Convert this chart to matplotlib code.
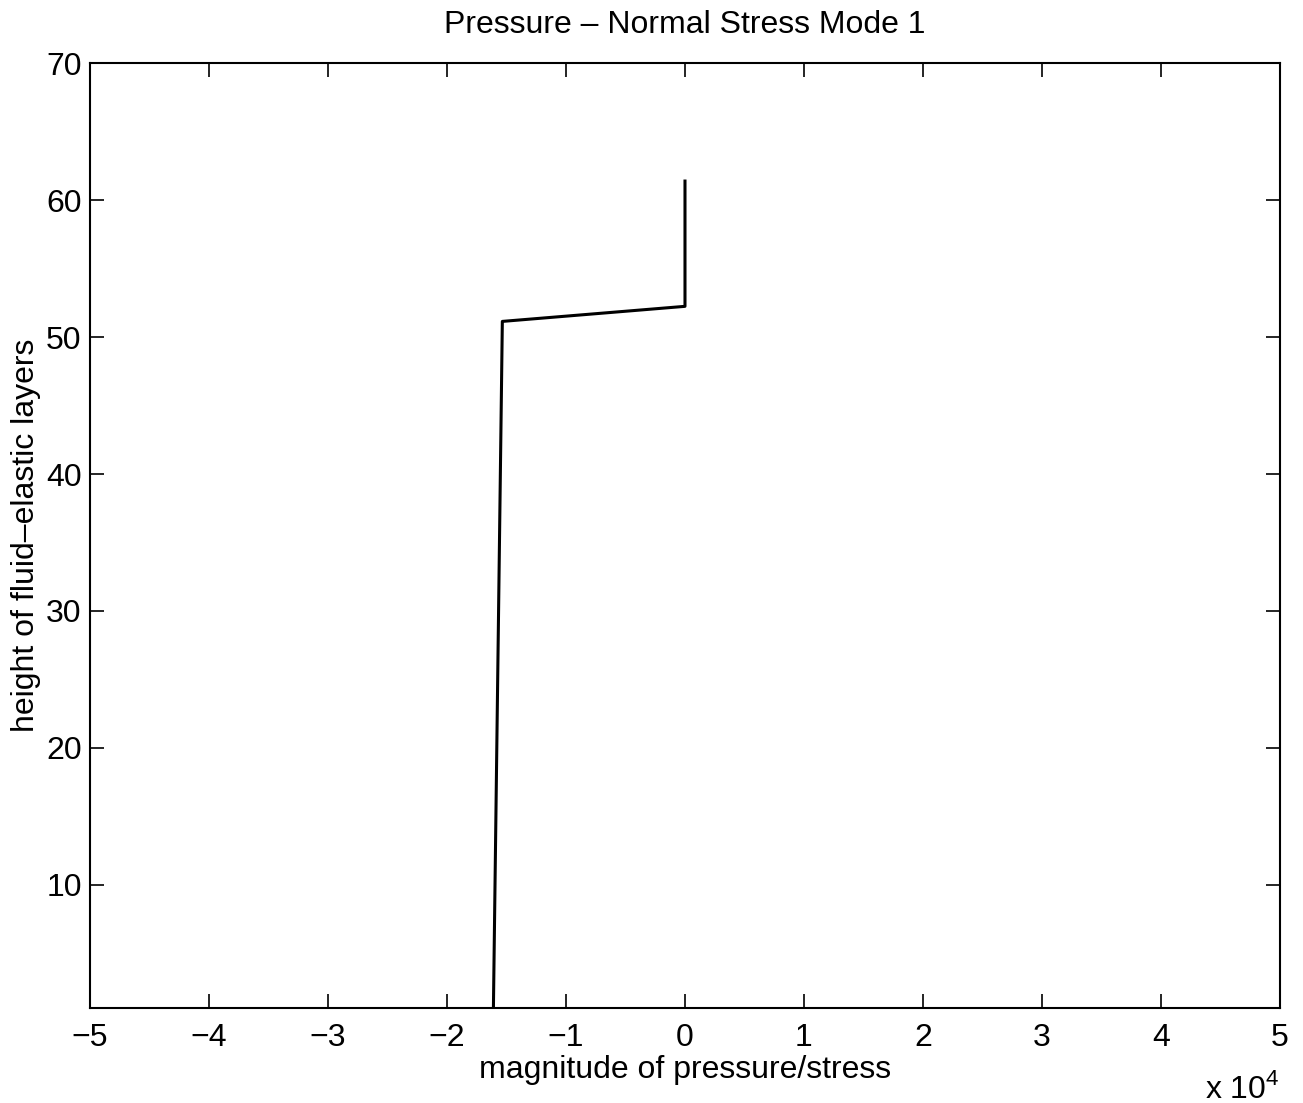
import matplotlib.pyplot as plt
from matplotlib.ticker import FuncFormatter

plt.rcParams['font.family'] = ['Liberation Sans', 'DejaVu Sans']
plt.rcParams['mathtext.fontset'] = 'custom'
plt.rcParams['mathtext.rm'] = 'Liberation Sans'

# profile of pressure / normal stress through the layers
stress = [-16100, -15350, 0, 0]
height = [1, 51.15, 52.25, 61.4]

xticks = [-50000, -40000, -30000, -20000, -10000, 0, 10000, 20000, 30000, 40000, 50000]
yticks = [10, 20, 30, 40, 50, 60, 70]

fig = plt.figure(figsize=(13.03, 11.03), dpi=100)
ax = fig.add_axes([0.0691, 0.0861, 0.9132, 0.8565])

ax.plot(stress, height, color='black', linewidth=2.2)

ax.set_xlim(-50000, 50000)
ax.set_ylim(1, 70)
ax.set_xticks(xticks)
ax.set_yticks(yticks)
ax.xaxis.set_major_formatter(FuncFormatter(lambda v, p: f'{v / 1e4:g}'.replace('-', '\u2212')))
ax.tick_params(direction='in', length=10, width=1.2, labelsize=23,
               top=True, right=True)
ax.tick_params(axis='x', pad=10.5)
ax.tick_params(axis='y', pad=6)
for s in ax.spines.values():
    s.set_linewidth(1.5)

ax.set_title('Pressure \u2013 Normal Stress Mode 1', fontsize=23, pad=22)
ax.set_xlabel('magnitude of pressure/stress', fontsize=23, labelpad=2)
ax.set_ylabel('height of fluid\u2013elastic layers', fontsize=23, labelpad=4)
fig.text(1280 / 1303, 1 - 1098 / 1103, r'x 10$^{\mathrm{4}}$', ha='right', va='baseline', fontsize=23)

fig.savefig('out.png', dpi=100)
